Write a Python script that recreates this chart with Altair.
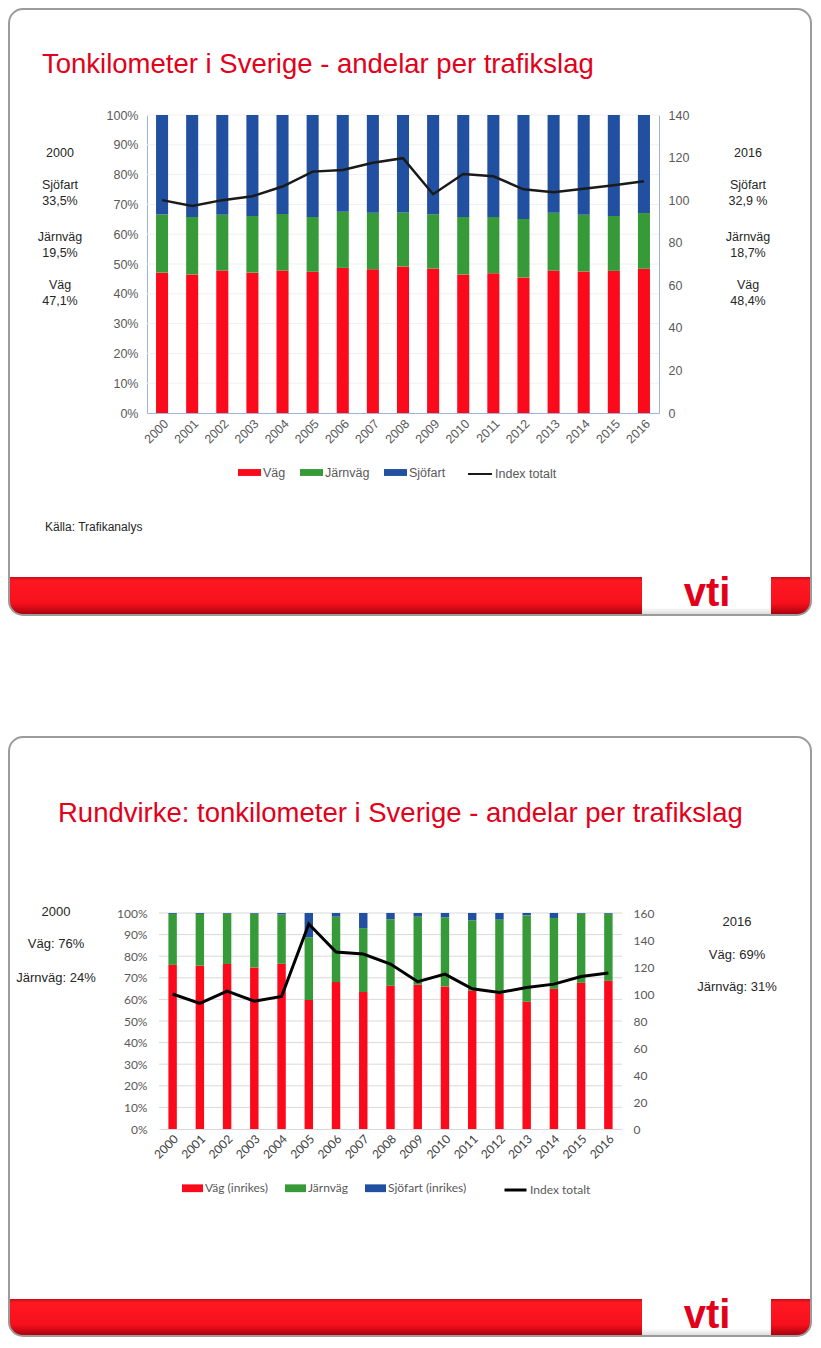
import altair as alt
import pandas as pd

# ---------------- data ----------------
years = [str(y) for y in range(2000, 2017)]

# Slide 1: Tonkilometer i Sverige (shares in %, index 2000 = 100)
modes1 = ["Väg", "Järnväg", "Sjöfart"]
vag1 = [47.1, 46.5, 47.8, 47.1, 47.8, 47.4, 48.7, 48.2, 49.2, 48.5, 46.5, 46.9, 45.5, 47.8, 47.5, 47.7, 48.4]
jarn1 = [19.5, 19.3, 18.7, 19.0, 19.0, 18.4, 18.8, 19.0, 18.1, 18.2, 19.3, 18.9, 19.6, 19.4, 19.0, 18.4, 18.7]
sjo1 = [33.4, 34.2, 33.5, 33.9, 33.2, 34.2, 32.5, 32.8, 32.7, 33.3, 34.2, 34.2, 34.9, 32.8, 33.5, 33.9, 32.9]
idx1 = [100.0, 97.3, 100.0, 101.8, 106.4, 113.4, 114.2, 117.6, 119.7, 102.8, 112.3, 111.2, 105.1, 103.7, 105.4, 107.0, 108.9]

# Slide 2: Rundvirke
modes2 = ["Väg (inrikes)", "Järnväg", "Sjöfart (inrikes)"]
vag2 = [76.0, 75.6, 76.4, 74.8, 76.5, 59.7, 68.0, 63.4, 66.3, 66.8, 66.0, 64.1, 62.6, 58.9, 64.9, 67.7, 68.6]
jarn2 = [23.6, 24.0, 23.3, 24.9, 22.8, 29.0, 30.3, 29.6, 30.8, 31.5, 32.0, 32.5, 34.3, 40.0, 32.8, 32.0, 31.1]
sjo2 = [0.4, 0.4, 0.3, 0.3, 0.7, 11.3, 1.7, 7.0, 2.9, 1.7, 2.0, 3.4, 3.1, 1.1, 2.3, 0.3, 0.3]
idx2 = [100.0, 93.0, 102.1, 94.7, 98.2, 151.8, 131.1, 129.6, 122.2, 109.1, 114.7, 103.9, 101.1, 104.8, 107.3, 113.0, 115.5]

share_ticks = [i / 10 for i in range(11)]
idx_ticks1 = list(range(0, 141, 20))
idx_ticks2 = list(range(0, 161, 20))

colors = ["#fb0a1c", "#379a38", "#2150a0"]
line_name = "Index totalt"

title1 = "Tonkilometer i Sverige - andelar per trafikslag"
title2 = "Rundvirke: tonkilometer i Sverige - andelar per trafikslag"
left1 = ["2000", "Sjöfart", "33,5%", "Järnväg", "19,5%", "Väg", "47,1%"]
right1 = ["2016", "Sjöfart", "32,9 %", "Järnväg", "18,7%", "Väg", "48,4%"]
left2 = ["2000", "Väg: 76%", "Järnväg: 24%"]
right2 = ["2016", "Väg: 69%", "Järnväg: 31%"]
source1 = "Källa: Trafikanalys"

ARIAL = "Liberation Sans"
CALIBRI = "Lato"
RED = "#e2001a"
GREY = "#595959"

# Everything is positioned relative to the upper plot's origin (page 147,115)
OX, OY = 147, 115


def X(px):
    return px - OX


def Y(py):
    return py - OY


def bars_df(modes, series):
    rows = []
    for i, y in enumerate(years):
        for k, (m, vals) in enumerate(zip(modes, series)):
            rows.append({"year": y, "mode": m, "share": vals[i] / 100.0, "ord": k})
    return pd.DataFrame(rows)


def line_df(vals):
    return pd.DataFrame({"year": years, "idx": vals, "serie": [line_name] * len(years)})


one = pd.DataFrame({"k": [0]})


def txt(s, x, y, size=12.5, color="#262626", font=ARIAL, align="center",
        baseline="middle", weight="normal"):
    return alt.Chart(one).mark_text(
        text=s, fontSize=size, color=color, font=font, align=align,
        baseline=baseline, fontWeight=weight
    ).encode(x=alt.value(x), y=alt.value(y))


def band_layer(fx1, fx2, band_y, fy2):
    return alt.Chart(one).mark_rect(
        color=alt.Gradient(gradient="linear", x1=0, x2=0, y1=0, y2=1,
                           stops=[alt.GradientStop(color="#c80c18", offset=0),
                                  alt.GradientStop(color="#ff1822", offset=0.1),
                                  alt.GradientStop(color="#f5101c", offset=0.7),
                                  alt.GradientStop(color="#a3000c", offset=1)]),
        cornerRadiusBottomLeft=14, cornerRadiusBottomRight=14
    ).encode(x=alt.value(fx1), x2=alt.value(fx2), y=alt.value(band_y), y2=alt.value(fy2))


def outline(fx1, fx2, fy1, fy2):
    return alt.Chart(one).mark_rect(fillOpacity=0, stroke="#9b9b9b", strokeWidth=2,
                                    cornerRadius=14).encode(
        x=alt.value(fx1), x2=alt.value(fx2), y=alt.value(fy1), y2=alt.value(fy2))


def logo(gx1, gx2, gy1, gy2, cx, base):
    gap = alt.Chart(one).mark_rect(
        color=alt.Gradient(gradient="linear", x1=0, x2=0, y1=0, y2=1,
                           stops=[alt.GradientStop(color="#ffffff", offset=0),
                                  alt.GradientStop(color="#ffffff", offset=0.8),
                                  alt.GradientStop(color="#d8d8d8", offset=1)])
    ).encode(x=alt.value(gx1), x2=alt.value(gx2), y=alt.value(gy1), y2=alt.value(gy2))
    t = txt("vti", cx, base, size=40, color=RED, weight="bold", baseline="alphabetic")
    return [gap, t]


def grid(ticks, domain, rng, x1, x2, color):
    return alt.Chart(pd.DataFrame({"t": ticks})).mark_rule(color=color, strokeWidth=1).encode(
        y=alt.Y("t:Q", scale=alt.Scale(domain=domain, range=rng), axis=None),
        x=alt.value(x1), x2=alt.value(x2))


# ---------------- slide 1 (upper) ----------------
W1, H1 = 512, 298
df1 = bars_df(modes1, [vag1, jarn1, sjo1])
bars1 = alt.Chart(df1).mark_bar().encode(
    x=alt.X("year:O", title=None,
            scale=alt.Scale(paddingInner=0.6, paddingOuter=0.3),
            axis=alt.Axis(orient="bottom", labelAngle=-45, labelFont=ARIAL,
                          labelFontSize=12.5, labelColor=GREY, ticks=False,
                          domainColor="#9fb3d6", labelPadding=4)),
    y=alt.Y("share:Q", stack="zero", title=None, scale=alt.Scale(domain=[0, 1]),
            axis=alt.Axis(orient="left", format=".0%", values=share_ticks, grid=False,
                          labelFont=ARIAL, labelFontSize=12.5, labelColor=GREY,
                          ticks=False, domainColor="#9fb3d6", labelPadding=9)),
    color=alt.Color("mode:N", scale=alt.Scale(domain=modes1, range=colors),
                    legend=alt.Legend(orient="none", legendX=91, legendY=346,
                                      direction="horizontal", title=None,
                                      symbolType="M-1,-0.3H1V0.3H-1Z", symbolSize=529,
                                      symbolStrokeWidth=0, labelFont=ARIAL,
                                      labelFontSize=12.5, labelColor=GREY,
                                      labelOffset=2, columnPadding=14)),
    order=alt.Order("ord:Q", sort="ascending"),
)
line1 = alt.Chart(line_df(idx1)).mark_line(strokeWidth=2.5).encode(
    x=alt.X("year:O"),
    y=alt.Y("idx:Q", title=None, scale=alt.Scale(domain=[0, 140]),
            axis=alt.Axis(orient="right", values=idx_ticks1, grid=False,
                          labelFont=ARIAL, labelFontSize=12.5, labelColor=GREY,
                          ticks=False, domainColor="#9fb3d6", labelPadding=9)),
    color=alt.Color("serie:N", scale=alt.Scale(domain=[line_name], range=["#1a1a1a"]),
                    legend=alt.Legend(orient="none", legendX=320, legendY=346,
                                      direction="horizontal", title=None,
                                      symbolType="stroke", symbolSize=576,
                                      symbolStrokeWidth=2, labelFont=ARIAL,
                                      labelFontSize=12.5, labelColor=GREY,
                                      labelOffset=2)),
)
chart1 = alt.layer(bars1, line1).resolve_scale(y="independent", color="independent")
grid1 = grid(share_ticks[1:], [0, 1], [H1, 0], 0, W1, "#f0f0f0")

F1 = (X(9), X(811), Y(9), Y(615))
deco1 = [band_layer(F1[0], F1[1], Y(577), F1[3])]
deco1 += logo(X(642), X(771), Y(577), Y(615), X(707), Y(606))
texts1 = [txt(title1, X(42), Y(73), size=27.5, color=RED, align="left",
              baseline="alphabetic")]
ys1 = [153, 185, 201, 237, 253, 285, 301]
for s, yy in zip(left1, ys1):
    texts1.append(txt(s, X(60), Y(yy)))
for s, yy in zip(right1, ys1):
    texts1.append(txt(s, X(748), Y(yy)))
texts1.append(txt(source1, X(45), Y(527), size=12, align="left"))

# ---------------- slide 2 (lower) ----------------
# lower plot area in page coords: x 159..622, y 913..1129
PX1, PX2, PY1, PY2 = X(159), X(622), Y(913), Y(1129)
df2 = bars_df(modes2, [vag2, jarn2, sjo2])
bars2 = alt.Chart(df2).mark_bar().encode(
    x=alt.X("year:O", title=None,
            scale=alt.Scale(paddingInner=0.69, paddingOuter=0.345, range=[PX1, PX2]),
            axis=alt.Axis(orient="bottom", labelAngle=-45, labelFont=CALIBRI,
                          labelFontSize=12, labelColor="#404040", ticks=False,
                          domainColor="#d9d9d9", labelPadding=4, offset=PY2 - H1)),
    y=alt.Y("share:Q", stack="zero", title=None,
            scale=alt.Scale(domain=[0, 1], range=[PY2, PY1]),
            axis=alt.Axis(orient="left", format=".0%", values=share_ticks, grid=False,
                          labelFont=CALIBRI, labelFontSize=12, labelColor=GREY,
                          ticks=False, domain=False, labelPadding=12, offset=-PX1)),
    color=alt.Color("mode:N", scale=alt.Scale(domain=modes2, range=colors),
                    legend=alt.Legend(orient="none", legendX=X(182), legendY=Y(1188) - 10.5,
                                      direction="horizontal", title=None,
                                      symbolType="M-1,-0.37H1V0.37H-1Z", symbolSize=441,
                                      symbolStrokeWidth=0, labelFont=CALIBRI,
                                      labelFontSize=12, labelColor=GREY,
                                      labelOffset=2, columnPadding=17)),
    order=alt.Order("ord:Q", sort="ascending"),
)
line2 = alt.Chart(line_df(idx2)).mark_line(strokeWidth=3).encode(
    x=alt.X("year:O"),
    y=alt.Y("idx:Q", title=None, scale=alt.Scale(domain=[0, 160], range=[PY2, PY1]),
            axis=alt.Axis(orient="right", values=idx_ticks2, grid=False,
                          labelFont=CALIBRI, labelFontSize=12, labelColor=GREY,
                          ticks=False, domain=False, labelPadding=11,
                          offset=PX2 - W1)),
    color=alt.Color("serie:N", scale=alt.Scale(domain=[line_name], range=["#000000"]),
                    legend=alt.Legend(orient="none", legendX=X(503), legendY=Y(1188) - 10.5,
                                      direction="horizontal", title=None,
                                      symbolType="stroke", symbolSize=484,
                                      symbolStrokeWidth=3, labelFont=CALIBRI,
                                      labelFontSize=12, labelColor=GREY,
                                      labelOffset=2)),
)
chart2 = alt.layer(bars2, line2).resolve_scale(y="independent", color="independent")
grid2 = grid(share_ticks[1:], [0, 1], [PY2, PY1], PX1, PX2, "#d9d9d9")

F2 = (X(9), X(811), Y(737), Y(1336))
deco2 = [band_layer(F2[0], F2[1], Y(1299), F2[3])]
deco2 += logo(X(642), X(771), Y(1299), Y(1336), X(707), Y(1328))
texts2 = [txt(title2, X(58), Y(822), size=27.5, color=RED, align="left",
              baseline="alphabetic")]
for s, yy in zip(left2, [912, 944, 978]):
    texts2.append(txt(s, X(56), Y(yy), size=13))
for s, yy in zip(right2, [922, 955, 987]):
    texts2.append(txt(s, X(737), Y(yy), size=13))

chart = alt.layer(
    *deco1, *deco2, *texts1, *texts2, grid1, grid2, chart1, chart2,
    outline(*F1), outline(*F2)
).resolve_scale(x="independent", y="independent", color="independent").properties(
    width=W1, height=H1, padding=0, background="white"
).configure_view(stroke=None)

chart.save("out.html", embed_options={"renderer": "svg", "actions": False})
